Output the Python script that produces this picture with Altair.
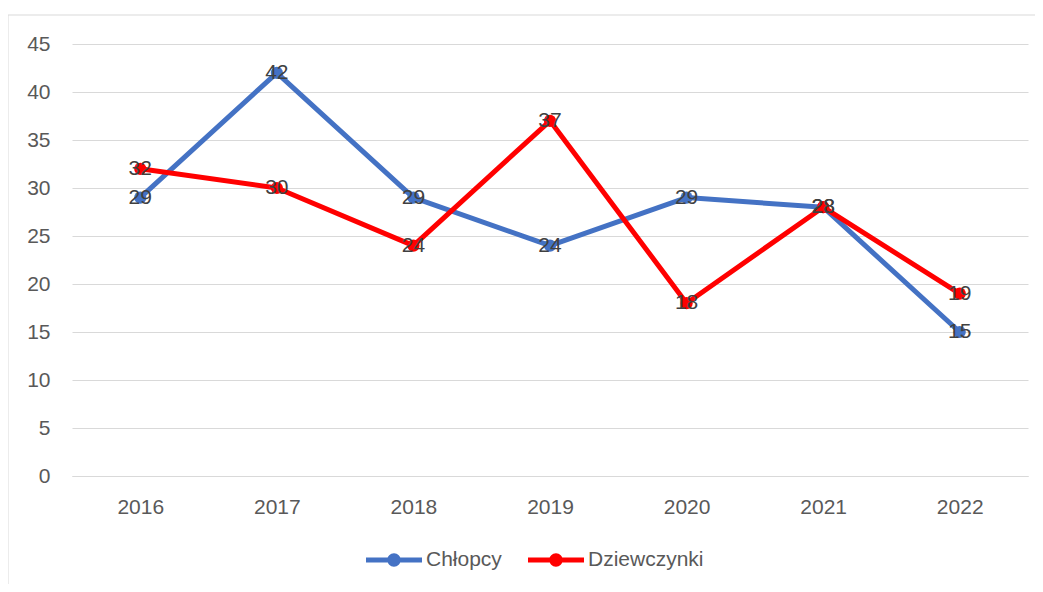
import altair as alt
import pandas as pd

years = ["2016", "2017", "2018", "2019", "2020", "2021", "2022"]
chlopcy = [29, 42, 29, 24, 29, 28, 15]
dziewczynki = [32, 30, 24, 37, 18, 28, 19]
series_names = ["Chłopcy", "Dziewczynki"]
series_colors = ["#4472C4", "#FF0000"]

rows = []
for name, vals in zip(series_names, [chlopcy, dziewczynki]):
    for y, v in zip(years, vals):
        rows.append({"Rok": y, "Wartość": v, "Seria": name})
df = pd.DataFrame(rows)

FONT = "Liberation Sans"
W, H = 956, 432

x = alt.X("Rok:N", sort=years, scale=alt.Scale(type="point", padding=0.5),
          axis=alt.Axis(title=None, labelAngle=0, ticks=False, domain=True,
                        domainColor="#D9D9D9", labelPadding=20, labelFontSize=21,
                        labelColor="#595959", labelFont=FONT, grid=False))
y = alt.Y("Wartość:Q", scale=alt.Scale(domain=[0, 45], nice=False),
          axis=alt.Axis(title=None, values=list(range(0, 50, 5)), ticks=False,
                        domain=False, gridColor="#D9D9D9", labelPadding=22,
                        labelFontSize=21, labelColor="#595959", labelFont=FONT))

legend_path = ("M-1,-0.09 L1,-0.09 L1,0.09 L-1,0.09 Z "
               "M0.24,0 A0.24,0.24 0 1,1 -0.24,0 A0.24,0.24 0 1,1 0.24,0 Z")

color_scale = alt.Scale(domain=series_names, range=series_colors)
color = alt.Color("Seria:N", scale=color_scale,
                  legend=alt.Legend(title=None, orient="none", direction="horizontal",
                                    legendX=294, legendY=488, symbolType=legend_path,
                                    symbolSize=3136, symbolStrokeWidth=0,
                                    labelFontSize=21, labelColor="#595959", labelFont=FONT,
                                    labelOffset=4, columnPadding=26))

base = alt.Chart(df)
lines = base.mark_line(strokeWidth=5, strokeCap="round", strokeJoin="round").encode(
    x=x, y=y, color=color)
points = base.mark_circle(size=150, opacity=1).encode(
    x=x, y=y, color=alt.Color("Seria:N", scale=color_scale, legend=None))
labels = base.mark_text(fontSize=21, font=FONT, color="#404040", align="center",
                        baseline="middle").encode(x=x, y=y, text="Wartość:Q")

frame = alt.Chart(pd.DataFrame({"a": [0]})).mark_rect(
    fill="transparent", stroke="#D9D9D9", strokeWidth=1).encode(
    x=alt.value(-64), x2=alt.value(1010), y=alt.value(-29), y2=alt.value(620))

chart = alt.layer(frame, lines, points, labels).properties(
    width=W, height=H,
    autosize=alt.AutoSizeParams(type="none"),
    padding={"left": 64, "top": 36, "right": 7, "bottom": 108},
).configure(background="white").configure_view(stroke="transparent", strokeWidth=0)

chart.save("out.html", embed_options={"renderer": "svg", "actions": False})
